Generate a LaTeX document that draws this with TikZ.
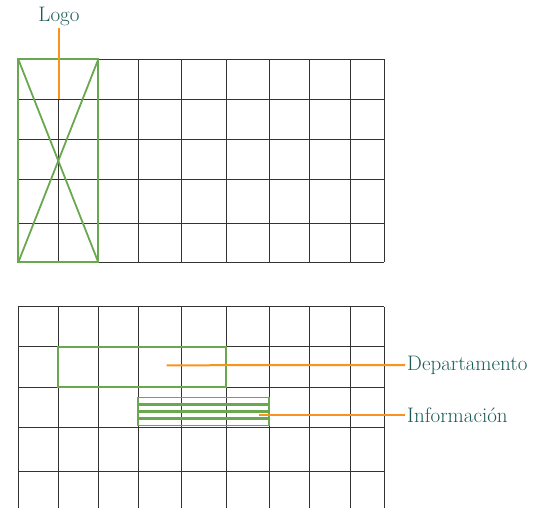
\documentclass[tikz,border=0pt]{standalone}
\usepackage{tikz}
\usetikzlibrary{positioning}
\definecolor{zonegreen}{RGB}{106,168,79}
\definecolor{calloutorange}{RGB}{247,147,30}
\definecolor{labelteal}{RGB}{28,92,88}
\tikzset{
  gridline/.style={draw=black!80, line width=0.9pt},
  zonebox/.style={draw=zonegreen, line width=1.8pt},
  calloutline/.style={draw=calloutorange, line width=2pt},
  zonelabel/.style={
    text=labelteal, inner sep=2pt,
    font=\fontsize{21}{23}\selectfont
  }
}

\begin{document}
\begin{tikzpicture}[x=1pt, y=-1pt]
    \useasboundingbox (0,0) rectangle (548,508);
    % upper grid
    \foreach \gx in {18.3,58.3,98.3,138.3,181.7,226.3,269.3,309.3,350,384.3}
      \draw[gridline] (\gx,59.3) -- (\gx,262.3);
    \foreach \gy in {59.3,99.3,139.3,179.3,223.3,262.3}
      \draw[gridline] (18.3,\gy) -- (384.3,\gy);
    % lower grid
    \foreach \gx in {18.3,58.3,98.3,138.3,181.7,226.3,269.3,309.3,350,384.3}
      \draw[gridline] (\gx,306.7) -- (\gx,508);
    \foreach \gy in {306.7,346.7,387,427,471}
      \draw[gridline] (18.3,\gy) -- (384.3,\gy);
    % logo zone
    \draw[zonebox] (18.3,59.3) rectangle (98.3,262.3);
    \draw[zonebox] (18.3,59.3) -- (98.3,262.3);
    \draw[zonebox] (98.3,59.3) -- (18.3,262.3);
    % departamento zone
    \draw[zonebox] (58.3,346.7) rectangle (226.3,387);
    % informacion zone
    \foreach \sy in {397.5,404.8,412.2,419.5}
      \draw[zonebox] (138.3,\sy) rectangle (269.3,\sy+6);
    % labels
    \node[zonelabel] (logo) at (59,16) {Logo};
    \node[zonelabel, anchor=west] (dept) at (405,365) {Departamento};
    \node[zonelabel, anchor=west] (info) at (405,415) {Información};
    \coordinate (logotip) at (59,99.3);
    \coordinate (depttip) at (166.7,365.3);
    \coordinate (infotip) at (259.3,415);
    \draw[calloutline] (logo.south) -- (logotip);
    \draw[calloutline] (dept.west) -- (depttip);
    \draw[calloutline] (info.west) -- (infotip);
\end{tikzpicture}
\end{document}
